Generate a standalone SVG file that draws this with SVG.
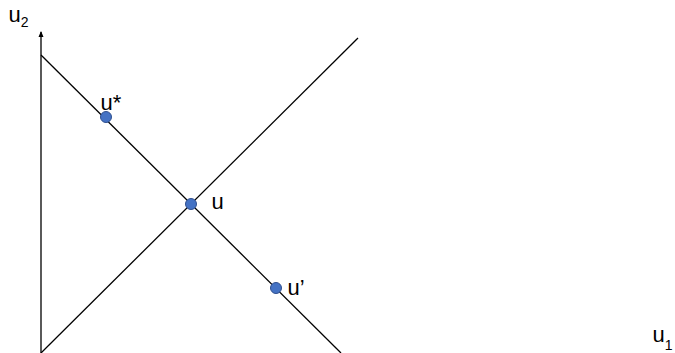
<svg xmlns="http://www.w3.org/2000/svg" width="675" height="353" viewBox="0 0 675 353">
<defs>
<marker id="arr" markerWidth="6" markerHeight="6" refX="5" refY="3" orient="auto" markerUnits="userSpaceOnUse"><path d="M0,0.5 L6,3 L0,5.5 Z" fill="#000"/></marker>
<style>
.ln{stroke:#000;stroke-width:1.3;fill:none}
.pt{fill:#4472C4;stroke:#2F4F8F;stroke-width:1}
.t{font-family:"Liberation Sans",Arial,sans-serif;font-size:22px;fill:#000}
.s{font-size:14px}
</style>
</defs>
<rect width="675" height="353" fill="#fff"/>
<g id="connectors">
<line class="ln" x1="41" y1="353" x2="41" y2="32" marker-end="url(#arr)"/>
<line class="ln" x1="41" y1="55" x2="341" y2="353"/>
<line class="ln" x1="41" y1="353" x2="358" y2="38"/>
</g>
<g id="axis-u2"><text class="t" x="8.5" y="22">u<tspan class="s" dy="5">2</tspan></text></g>
<g id="axis-u1"><text class="t" x="652.5" y="342">u<tspan class="s" dy="8">1</tspan></text></g>
<g id="node-ustar"><circle class="pt" cx="106" cy="117" r="5.5"/><text class="t" x="100.5" y="110">u*</text></g>
<g id="node-u"><circle class="pt" cx="191" cy="204" r="5.5"/><text class="t" x="211.5" y="209">u</text></g>
<g id="node-uprime"><circle class="pt" cx="276" cy="288" r="5.5"/><text class="t" x="287.5" y="295">u’</text></g>
</svg>
